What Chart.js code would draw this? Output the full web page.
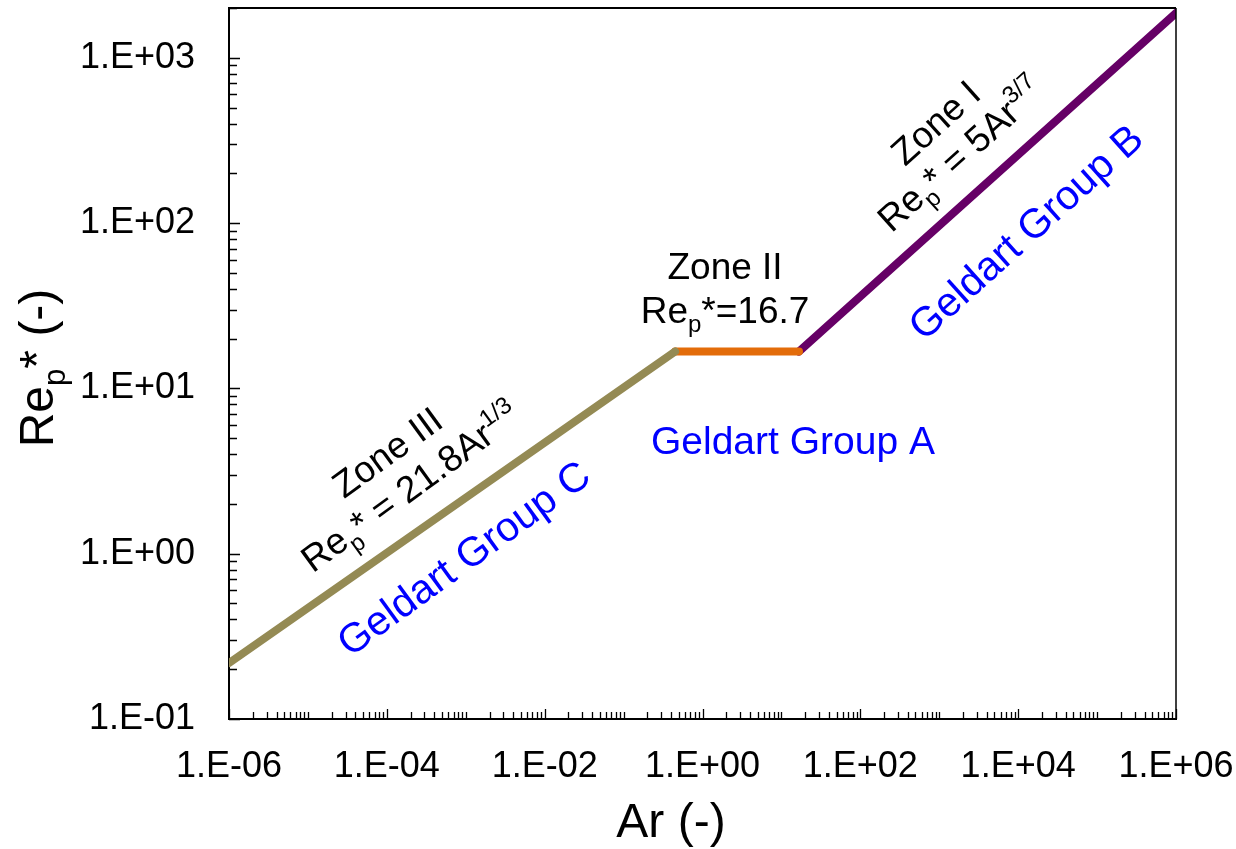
<!DOCTYPE html>
<html>
<head>
<meta charset="utf-8">
<script src="https://cdn.jsdelivr.net/npm/chart.js@4.4.1/dist/chart.umd.min.js"></script>
<style>
  html, body { margin: 0; padding: 0; background: #fff; }
</style>
</head>
<body>
<canvas id="myChart" width="1236" height="849"></canvas>
<script>
// data (Ar, Re_p*)
var zone3Ar = [1e-6, 0.45];
var zone3Re = [0.218, 16.7];
var zone2Ar = [0.45, 16.7];
var zone2Re = [16.7, 16.7];
var zone1Ar = [16.7, 1e6];
var zone1Re = [16.7, 1864];

var xTickValues = [1e-6, 1e-4, 1e-2, 1, 1e2, 1e4, 1e6];
var xTickLabels = ["1.E-06", "1.E-04", "1.E-02", "1.E+00", "1.E+02", "1.E+04", "1.E+06"];
var yTickValues = [0.1, 1, 10, 100, 1000];
var yTickLabels = ["1.E-01", "1.E+00", "1.E+01", "1.E+02", "1.E+03"];

var FONT = "'Liberation Sans', Arial, sans-serif";

function toPoints(xs, ys) {
    return xs.map(function (x, i) { return { x: x, y: ys[i] }; });
}

// draw text made of runs, with sub/superscripts, centred on x,y
function richText(ctx, x, y, angle, runs, size, color) {
    ctx.save();
    ctx.translate(x, y);
    ctx.rotate(angle * Math.PI / 180);
    ctx.fillStyle = color;
    ctx.textBaseline = "alphabetic";
    ctx.textAlign = "left";
    var w = 0;
    runs.forEach(function (r) {
        var s = (r.sub || r.sup) ? size * 0.65 : size;
        ctx.font = s + "px " + FONT;
        r._w = ctx.measureText(r.t).width;
        w += r._w;
    });
    var cx = -w / 2, base = size * 0.36;
    runs.forEach(function (r) {
        var s = (r.sub || r.sup) ? size * 0.65 : size;
        ctx.font = s + "px " + FONT;
        var dy = r.sub ? size * 0.25 : (r.sup ? -size * 0.42 : 0);
        ctx.fillText(r.t, cx, base + dy);
        cx += r._w;
    });
    ctx.restore();
}

// annotations anchored in data coordinates
var notes = [
    { ar: 1e-4, re: 4.15, angle: -36, size: 37, color: "#000", runs: [{ t: "Zone III" }] },
    { ar: 1.96e-4, re: 2.55, angle: -36, size: 37, color: "#000", runs: [{ t: "Re" }, { t: "p", sub: true }, { t: "* = 21.8Ar" }, { t: "1/3", sup: true }] },
    { ar: 9.2e-4, re: 0.95, angle: -36, size: 41, color: "#0000FF", runs: [{ t: "Geldart Group C" }] },
    { ar: 1.93, re: 55.6, angle: 0, size: 37, color: "#000", runs: [{ t: "Zone II" }] },
    { ar: 1.93, re: 30.1, angle: 0, size: 37, color: "#000", runs: [{ t: "Re" }, { t: "p", sub: true }, { t: "*=16.7" }] },
    { ar: 14, re: 4.89, angle: 0, size: 39, color: "#0000FF", runs: [{ t: "Geldart Group A" }] },
    { ar: 883, re: 409, angle: -42, size: 37, color: "#000", runs: [{ t: "Zone I" }] },
    { ar: 1830, re: 262, angle: -42, size: 37, color: "#000", runs: [{ t: "Re" }, { t: "p", sub: true }, { t: "* = 5Ar" }, { t: "3/7", sup: true }] },
    { ar: 12200, re: 89.5, angle: -42, size: 41, color: "#0000FF", runs: [{ t: "Geldart Group B" }] }
];

var decorPlugin = {
    id: "decor",
    afterDraw: function (chart) {
        var ctx = chart.ctx, a = chart.chartArea;
        var xs = chart.scales.x, ys = chart.scales.y;

        // frame top and right
        ctx.save();
        ctx.strokeStyle = "#000";
        ctx.lineWidth = 2;
        ctx.beginPath();
        ctx.moveTo(a.left, a.top);
        ctx.lineTo(a.right, a.top);
        ctx.stroke();
        ctx.lineWidth = 1.5;
        ctx.beginPath();
        ctx.moveTo(a.right, a.top);
        ctx.lineTo(a.right, a.bottom);
        ctx.stroke();

        // inward ticks
        ctx.lineWidth = 1.3;
        ctx.beginPath();
        for (var k = -6; k <= 6; k++) {
            for (var m = 1; m <= 9; m++) {
                var v = m * Math.pow(10, k);
                if (v > xs.max * 1.0001) break;
                var major = (m === 1 && k % 2 === 0);
                var px = Math.round(xs.getPixelForValue(v)) + 0.5;
                ctx.moveTo(px, a.bottom);
                ctx.lineTo(px, a.bottom - (major ? 10 : 7));
            }
        }
        for (var j = -1; j <= 3; j++) {
            for (var n = 1; n <= 9; n++) {
                var w = n * Math.pow(10, j);
                if (w > ys.max) break;
                var py = Math.round(ys.getPixelForValue(w)) + 0.5;
                ctx.moveTo(a.left, py);
                ctx.lineTo(a.left + (n === 1 ? 11 : 8), py);
            }
        }
        ctx.stroke();
        ctx.restore();

        // axis titles
        richText(ctx, 671, 820, 0, [{ t: "Ar (-)" }], 48, "#000");
        richText(ctx, 36, 368, -90, [{ t: "Re" }, { t: "p", sub: true }, { t: "* (-)" }], 48, "#000");

        // zone labels
        notes.forEach(function (nt) {
            richText(ctx, xs.getPixelForValue(nt.ar), ys.getPixelForValue(nt.re), nt.angle, nt.runs, nt.size, nt.color);
        });
    }
};

var lineStyle = {
    showLine: true,
    borderWidth: 8,
    pointRadius: 0,
    borderCapStyle: "round",
    borderJoinStyle: "round",
    fill: false
};

var chartData = {
    datasets: [
        Object.assign({ label: "Zone III", data: toPoints(zone3Ar, zone3Re), borderColor: "#948A54" }, lineStyle),
        Object.assign({ label: "Zone II", data: toPoints(zone2Ar, zone2Re), borderColor: "#E36C0A" }, lineStyle),
        Object.assign({ label: "Zone I", data: toPoints(zone1Ar, zone1Re), borderColor: "#660066" }, lineStyle)
    ]
};

var config = {
    responsive: false,
    animation: false,
    layout: { padding: { top: 8, right: 60, left: 0, bottom: 0 } },
    plugins: { legend: { display: false }, tooltip: { enabled: false } },
    scales: {
        x: {
            type: "logarithmic",
            min: 1e-6,
            max: 1e6,
            afterBuildTicks: function (scale) {
                scale.ticks = xTickValues.map(function (v) { return { value: v }; });
            },
            afterFit: function (scale) {
                scale.height = 130;
                scale.paddingLeft = 0;
                scale.paddingRight = 0;
            },
            grid: { drawOnChartArea: false, drawTicks: false },
            border: { display: true, color: "#000", width: 2 },
            ticks: {
                autoSkip: false,
                maxRotation: 0,
                padding: 26,
                color: "#000",
                font: { family: FONT, size: 36 },
                callback: function (v, i) { return xTickLabels[i]; }
            }
        },
        y: {
            type: "logarithmic",
            min: 0.1,
            max: 2000,
            afterBuildTicks: function (scale) {
                scale.ticks = yTickValues.map(function (v) { return { value: v }; });
            },
            afterFit: function (scale) {
                scale.width = 229;
                scale.paddingTop = 0;
                scale.paddingBottom = 0;
            },
            grid: { drawOnChartArea: false, drawTicks: false },
            border: { display: true, color: "#000", width: 2 },
            ticks: {
                autoSkip: false,
                padding: 34,
                color: "#000",
                font: { family: FONT, size: 36 },
                callback: function (v, i) { return yTickLabels[i]; }
            }
        }
    }
};

var ctx = document.getElementById("myChart"),
    myChart = new Chart(ctx, {
        type: "scatter",
        data: chartData,
        options: config,
        plugins: [decorPlugin]
    });
</script>
</body>
</html>
